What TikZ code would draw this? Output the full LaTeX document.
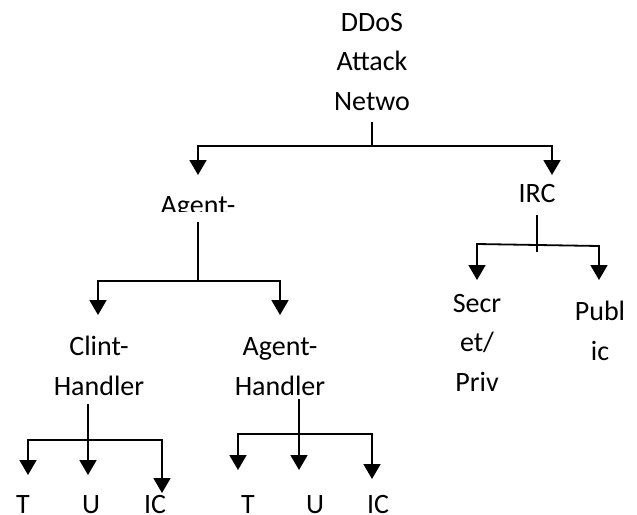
\documentclass[tikz,border=0pt]{standalone}
\usepackage{fontspec}
\setmainfont{Carlito}
\usetikzlibrary{arrows.meta}
\newcommand\lblfont{\fontsize{28}{39.5}\selectfont}
\tikzset{
  lbl/.style={inner sep=0pt, outer sep=0pt, align=center, anchor=base, font=\lblfont},
  ln/.style={line width=1.8pt, draw=black},
  tri/.tip={Triangle[width=17pt,length=15pt]},
  onetip/.style={ln, -tri},
  twotips/.style={ln, tri-tri},
}
\begin{document}
\begin{tikzpicture}[x=1pt,y=-1pt]
\useasboundingbox (0,0) rectangle (637,514);
\fill[white] (0,0) rectangle (637,514);

% labels (a multi-line label sits on the baseline of its last line)
\node[lbl] (root) at (372,110) {DDoS\\Attack\\Netwo};
\begin{scope}
  \clip (0,0) rectangle (637,211);
  \node[lbl] (agent) at (198,214) {Agent-};
\end{scope}
\node[lbl] (irc) at (537,202) {IRC};
\node[lbl] (clint) at (99,395) {Clint-\\Handler};
\node[lbl] (agenth) at (280,395) {Agent-\\Handler};
\node[lbl] (secr) at (477,391) {Secr\\et/\\Priv};
\node[lbl] (publ) at (600,360) {Publ\\ic};
\node[lbl] (t1) at (23,513) {T};
\node[lbl] (u1) at (91,513) {U};
\node[lbl] (ic1) at (155,513) {IC};
\node[lbl] (t2) at (248,513) {T};
\node[lbl] (u2) at (315,513) {U};
\node[lbl] (ic2) at (378,513) {IC};

% junctions
\coordinate (j1) at (372,146);
\coordinate (j2) at (198,281);
\coordinate (j3) at (88,440);
\coordinate (j4) at (299,434);
\coordinate (j5) at (537,252);
\coordinate (h5l) at (477,244);
\coordinate (h5r) at (599,246);

% root -> Agent- / IRC
\draw[ln, shorten <=12pt] (root.south) -- (j1);
\draw[twotips] ([yshift=39pt]agent.base) |- (j1) -| ([xshift=15pt,yshift=27pt]irc.base);

% Agent- -> Clint-Handler / Agent-Handler
\draw[ln] ([yshift=-8pt]agent.base) -- (j2);
\draw[twotips] ([xshift=-1pt,yshift=80pt]clint.base) |- (j2) -| ([yshift=80pt]agenth.base);

% Clint-Handler -> T / U / IC
\draw[onetip, shorten <=9pt] ([xshift=-11pt]clint.south) -- ([xshift=-3pt,yshift=38pt]u1.base);
\draw[twotips] ([xshift=5pt,yshift=38pt]t1.base) |- (j3) -| ([xshift=7pt,yshift=20pt]ic1.base);

% Agent-Handler -> T / U / IC
\draw[onetip, shorten <=4pt] ([xshift=19pt]agenth.south) -- ([xshift=-16pt,yshift=43pt]u2.base);
\draw[twotips] ([xshift=-10pt,yshift=43pt]t2.base) |- (j4) -| ([xshift=-6pt,yshift=34pt]ic2.base);

% IRC -> Secret/Private / Public
\draw[ln, shorten <=13pt] (irc.south) -- (j5);
\draw[twotips] ([yshift=111pt]secr.base) -- (h5l) -- (h5r) -- ([xshift=-1pt,yshift=80pt]publ.base);
\end{tikzpicture}
\end{document}
